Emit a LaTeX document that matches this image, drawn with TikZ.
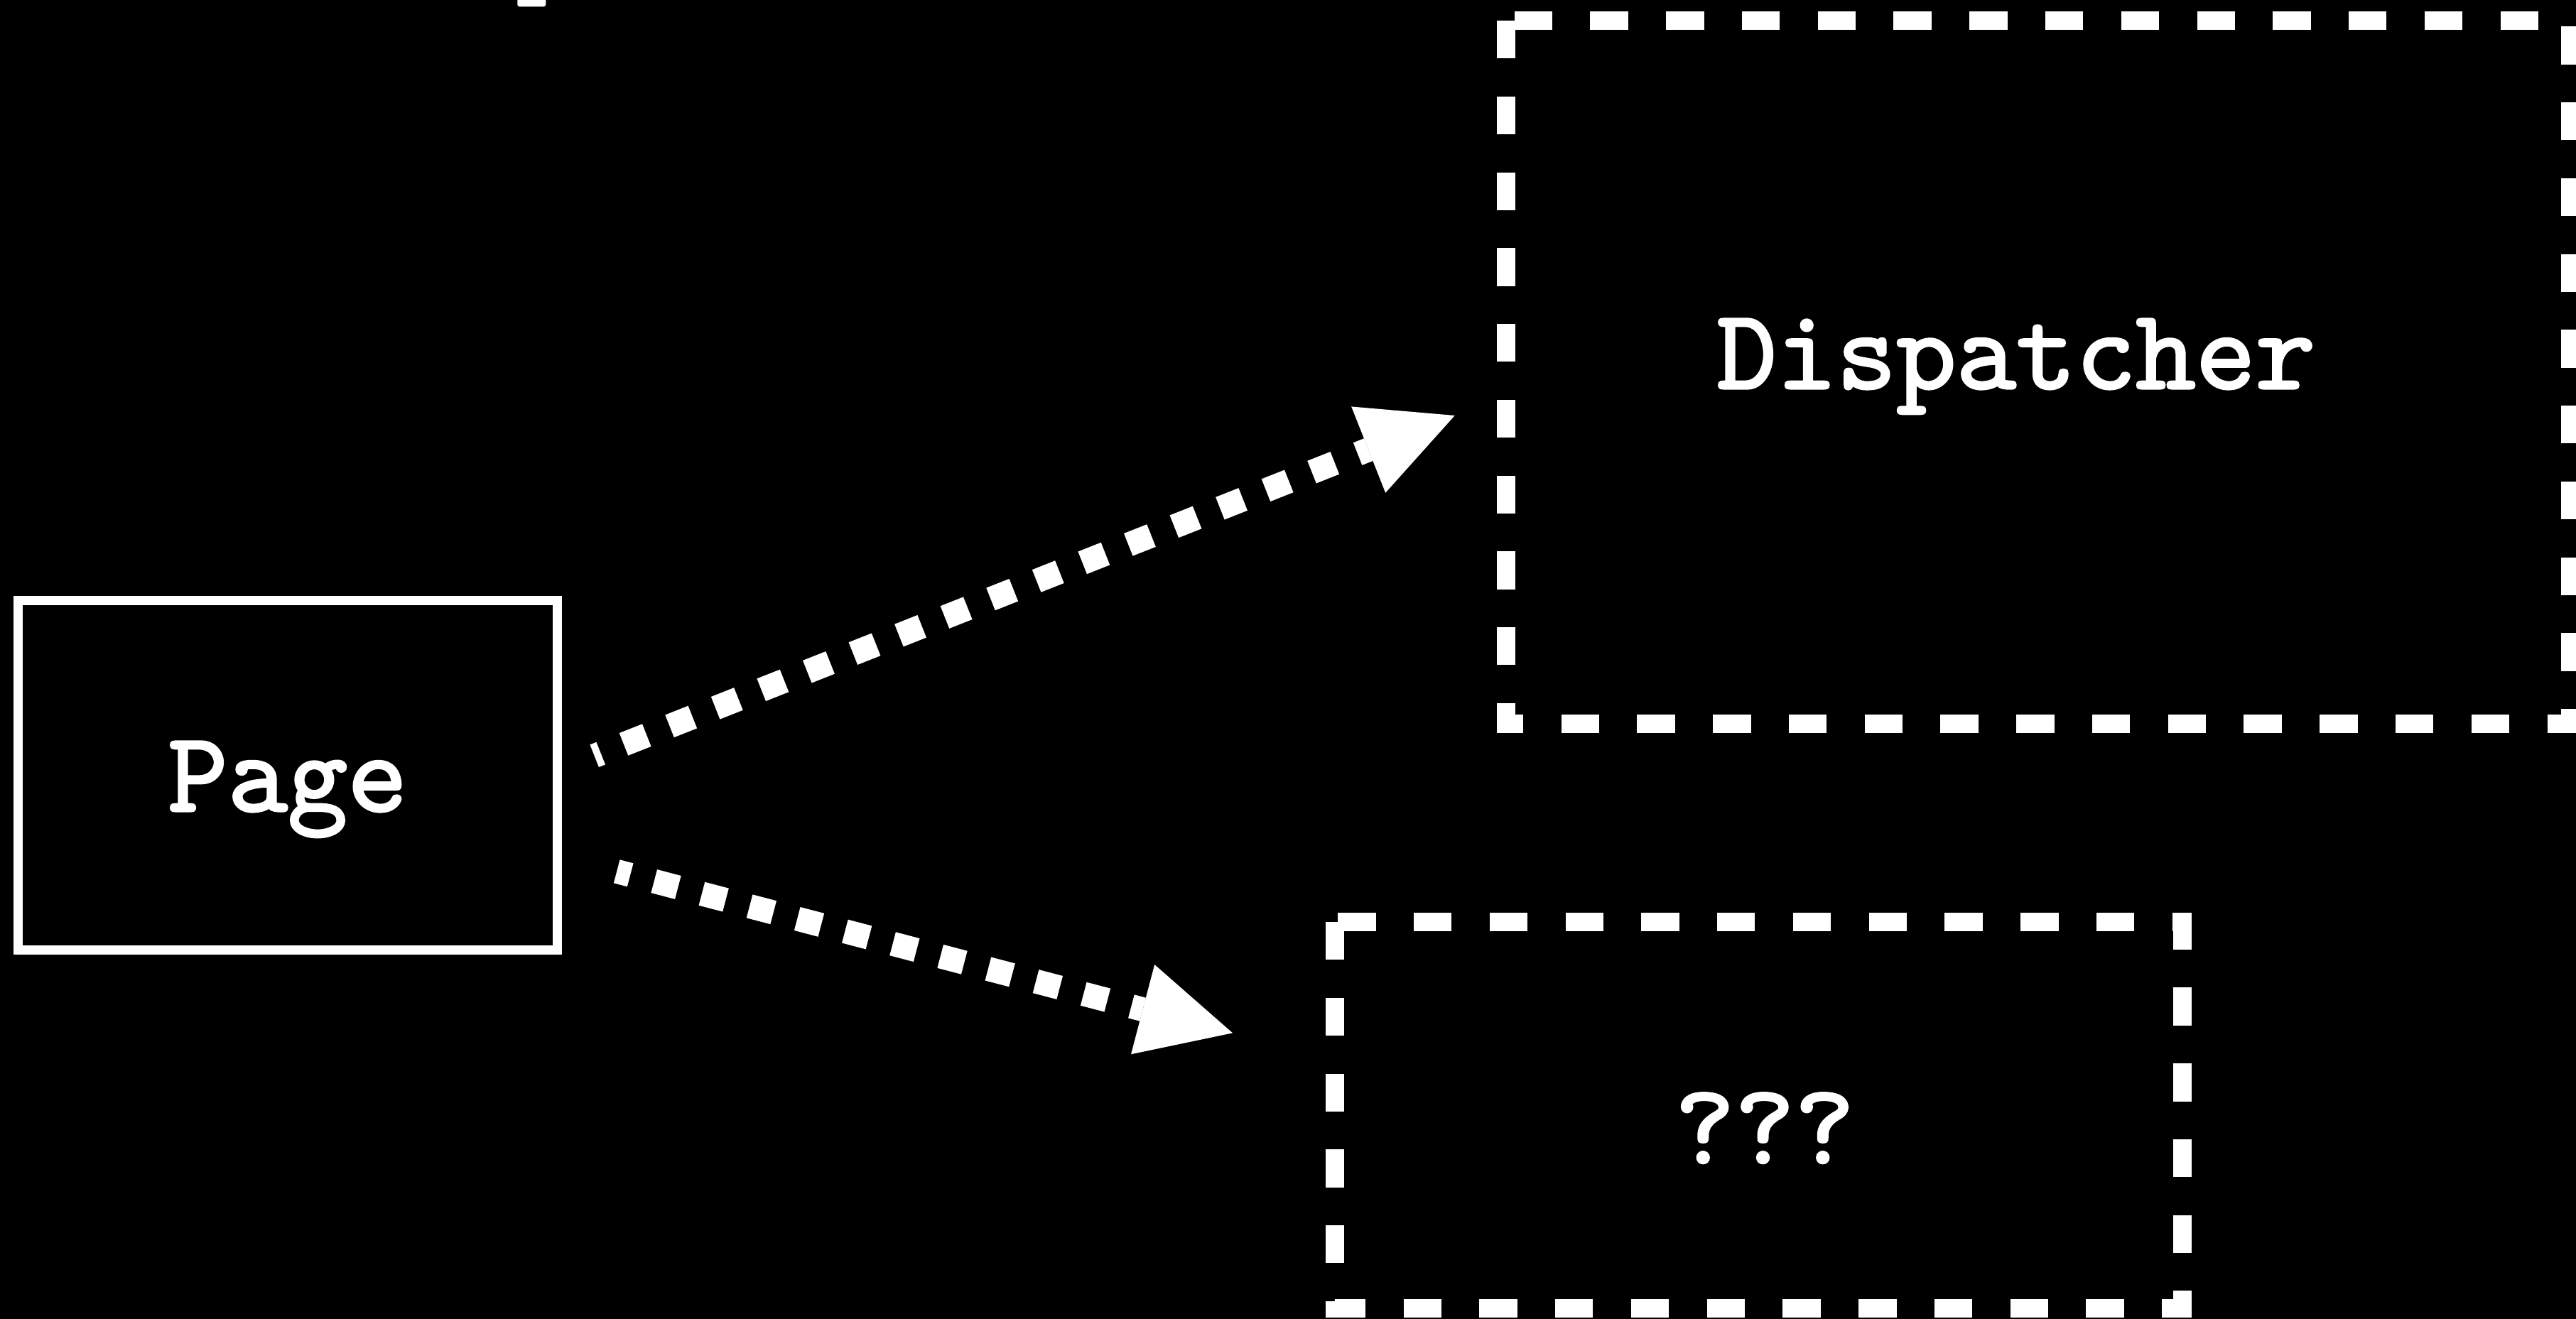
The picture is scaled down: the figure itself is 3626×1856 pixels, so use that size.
\documentclass[tikz,border=0pt]{standalone}
\usepackage{fontspec}
\newfontfamily\lblfont{lmmono10-regular.otf}[FakeBold=2]
\usetikzlibrary{arrows.meta}
\begin{document}
\begin{tikzpicture}[x=0.01cm, y=-0.01cm,
  lbl/.style={text=white, inner sep=0pt, font=\fontsize{45.64}{54}\selectfont\lblfont},
  pagebox/.style={lbl, draw=white, line width=0.132cm, minimum width=7.58cm, minimum height=4.91cm, text height=1.01cm, text depth=0pt},
  dbox/.style={draw=white, line width=0.26cm, dash pattern=on 0.5335cm off 0.5335cm},
  darrow/.style={draw=white, line width=0.34cm, dash pattern=on 0.347cm off 0.347cm,
    -{Triangle[length=1.306cm 0 0, width=1.304cm 0 0, line width=0pt 0 0]}}
]
\useasboundingbox (0,0) rectangle (3626,1856);
\fill[black] (-20,-20) rectangle (3646,1876);

% mark at the top edge
\fill[white, rounded corners=0.03cm] (728.3,-20) rectangle (768.3,9.3);

% Page
\node[pagebox] (page) at (405,1091.5) {Page};

% Dispatcher
\coordinate (dispNW) at (2120,29);
\coordinate (dispSE) at (3618,1019);
\draw[dbox] (dispNW) rectangle (dispSE);
\node[lbl, anchor=base] (disp) at (2838,547) {Dispatcher};

% ???
\coordinate (unkNW) at (1879,1298);
\coordinate (unkSE) at (3072,1842);
\draw[dbox] (unkNW) rectangle (unkSE);
\node[lbl, anchor=base] (unk) at (2484,1637.7) {???};

% arrows
\coordinate (a1s) at (836.7,1064.2);
\coordinate (a1e) at (2047.7,585);
\draw[darrow, dash phase=0.25cm] (a1s) -- (a1e);

\coordinate (a2s) at (868.2,1226.8);
\coordinate (a2e) at (1735,1454.3);
\draw[darrow, dash phase=0.151cm] (a2s) -- (a2e);
\end{tikzpicture}
\end{document}
